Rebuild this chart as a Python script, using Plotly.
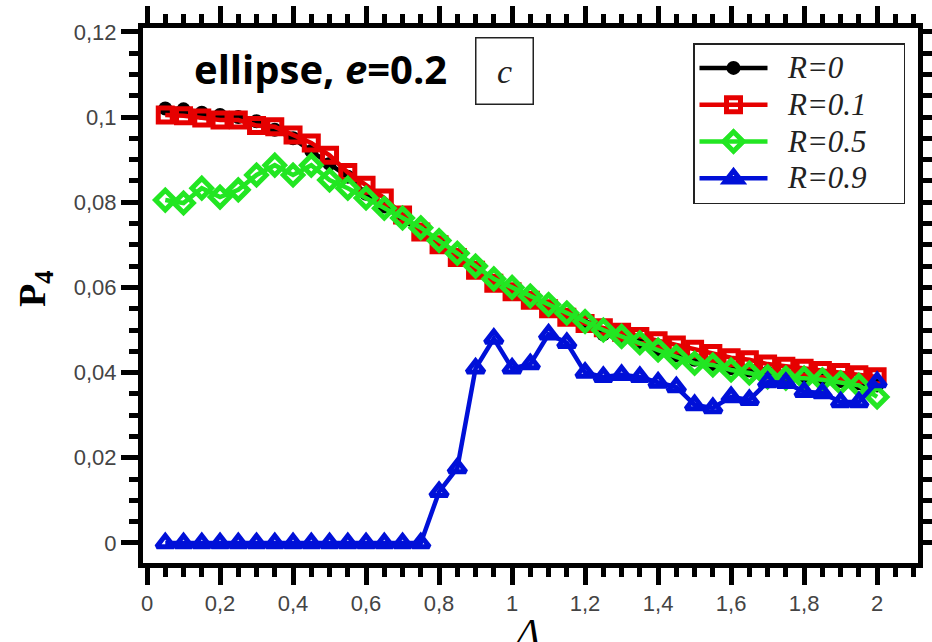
import plotly.graph_objects as go

delta = [0.05, 0.10, 0.15, 0.20, 0.25, 0.30, 0.35, 0.40, 0.45, 0.50,
         0.55, 0.60, 0.65, 0.70, 0.75, 0.80, 0.85, 0.90, 0.95, 1.00,
         1.05, 1.10, 1.15, 1.20, 1.25, 1.30, 1.35, 1.40, 1.45, 1.50,
         1.55, 1.60, 1.65, 1.70, 1.75, 1.80, 1.85, 1.90, 1.95, 2.00]

p4_r0 = [0.1020, 0.1018, 0.1010, 0.1005, 0.1000, 0.0990, 0.0970, 0.0950, 0.0920, 0.0890,
         0.0860, 0.0820, 0.0790, 0.0760, 0.0730, 0.0700, 0.0670, 0.0640, 0.0610, 0.0590,
         0.0570, 0.0550, 0.0530, 0.0510, 0.0490, 0.0480, 0.0470, 0.0450, 0.0440, 0.0430,
         0.0420, 0.0410, 0.0405, 0.0400, 0.0390, 0.0390, 0.0385, 0.0380, 0.0375, 0.0370]

p4_r01 = [0.1005, 0.1003, 0.0998, 0.0993, 0.0993, 0.0980, 0.0977, 0.0958, 0.0939, 0.0910,
          0.0870, 0.0840, 0.0810, 0.0770, 0.0730, 0.0700, 0.0670, 0.0640, 0.0610, 0.0590,
          0.0570, 0.0550, 0.0530, 0.0515, 0.0505, 0.0495, 0.0485, 0.0475, 0.0465, 0.0455,
          0.0445, 0.0435, 0.0430, 0.0420, 0.0415, 0.0410, 0.0405, 0.0400, 0.0395, 0.0390]

p4_r05 = [0.0805, 0.0798, 0.0833, 0.0812, 0.0829, 0.0864, 0.0887, 0.0864, 0.0887, 0.0852,
          0.0833, 0.0810, 0.0786, 0.0763, 0.0740, 0.0710, 0.0680, 0.0650, 0.0620, 0.0600,
          0.0580, 0.0560, 0.0540, 0.0520, 0.0500, 0.0485, 0.0470, 0.0453, 0.0437, 0.0422,
          0.0418, 0.0406, 0.0399, 0.0390, 0.0387, 0.0387, 0.0383, 0.0376, 0.0370, 0.0343]

p4_r09 = [0.0, 0.0, 0.0, 0.0, 0.0, 0.0, 0.0, 0.0, 0.0, 0.0,
          0.0, 0.0, 0.0, 0.0, 0.0, 0.0120, 0.0176, 0.0410, 0.0480, 0.0410,
          0.0420, 0.0490, 0.0470, 0.0400, 0.0390, 0.0395, 0.0390, 0.0377, 0.0366, 0.0324,
          0.0317, 0.0343, 0.0336, 0.0378, 0.0376, 0.0355, 0.0352, 0.0331, 0.0331, 0.0378]

series = [
    ("R=0", p4_r0, "#000000", "circle", 14, 0),
    ("R=0.1", p4_r01, "#e60000", "square-open", 14, 5),
    ("R=0.5", p4_r05, "#22e622", "diamond-open", 15, 5),
    ("R=0.9", p4_r09, "#0010d8", "triangle-up-open", 15, 5),
]

fig = go.Figure()
for name, ys, col, sym, sz, lw in series:
    fig.add_trace(go.Scatter(
        x=delta, y=ys, mode="lines+markers",
        name="<span style='font-size:31px'>&nbsp;&nbsp;" + name + "&nbsp;&nbsp;&nbsp;&nbsp;</span>",
        line=dict(color=col, width=4.5),
        marker=dict(symbol=sym, size=sz, color=col,
                    line=dict(color=col, width=lw)),
    ))

L, R, T, B = 143, 14, 28, 79
W, H = 932, 642
pw, ph = W - L - R, H - T - B

def px_x(p):
    return (p - L) / pw

def px_y(p):
    return (H - B - p) / ph

axis_common = dict(
    showline=True, linecolor="black", linewidth=5, mirror="allticks",
    ticks="outside", ticklen=17, tickwidth=5, tickcolor="black",
    showgrid=False, zeroline=False, automargin=False,
    tickfont=dict(family="Liberation Sans, Arial, sans-serif", size=22, color="#444444"),
)

fig.update_xaxes(range=[-0.011, 2.112], dtick=0.2, tick0=0,
                 minor=dict(dtick=0.05, ticks="outside", ticklen=9, tickwidth=5,
                            tickcolor="black", showgrid=False),
                 **axis_common)
fig.update_yaxes(range=[-0.0047, 0.1209], dtick=0.02, tick0=0,
                 minor=dict(dtick=0.005, ticks="outside", ticklen=9, tickwidth=5,
                            tickcolor="black", showgrid=False),
                 **axis_common)

fig.update_layout(
    width=W, height=H,
    margin=dict(l=L, r=R, t=T, b=B, autoexpand=False),
    paper_bgcolor="white", plot_bgcolor="white",
    separators=", ",
    showlegend=True,
    legend=dict(
        x=px_x(693), y=px_y(43), xanchor="left", yanchor="top",
        bgcolor="white", bordercolor="#222222", borderwidth=1.5,
        font=dict(family="Liberation Serif, Times New Roman, serif", size=26,
                  color="#222222", style="italic"),
        itemwidth=68,
    ),
    annotations=[
        dict(text="<b>ellipse, <i>e</i>=0.2</b>", xref="paper", yref="paper",
             x=px_x(192), y=px_y(68), xanchor="left", yanchor="middle",
             showarrow=False,
             font=dict(family="Open Sans, sans-serif", size=40, color="black")),
        dict(text="<i>c</i>", xref="paper", yref="paper",
             x=px_x(504), y=px_y(71.5), xanchor="center", yanchor="middle",
             showarrow=False, width=54, height=63, borderpad=1,
             bordercolor="#222222", borderwidth=1.5, bgcolor="white",
             font=dict(family="Liberation Serif, serif", size=34, color="#222222")),
        dict(text="<b>P<sub>4</sub></b>", xref="paper", yref="paper",
             x=px_x(35), y=px_y(289), xanchor="center", yanchor="middle",
             textangle=-90, showarrow=False,
             font=dict(family="Liberation Serif, serif", size=38, color="black")),
        dict(text="<i>Δ</i>", xref="paper", yref="paper",
             x=px_x(527), y=px_y(609), xanchor="center", yanchor="top",
             showarrow=False,
             font=dict(family="Liberation Serif, serif", size=38, color="black")),
    ],
)

fig.write_html("out.html")
